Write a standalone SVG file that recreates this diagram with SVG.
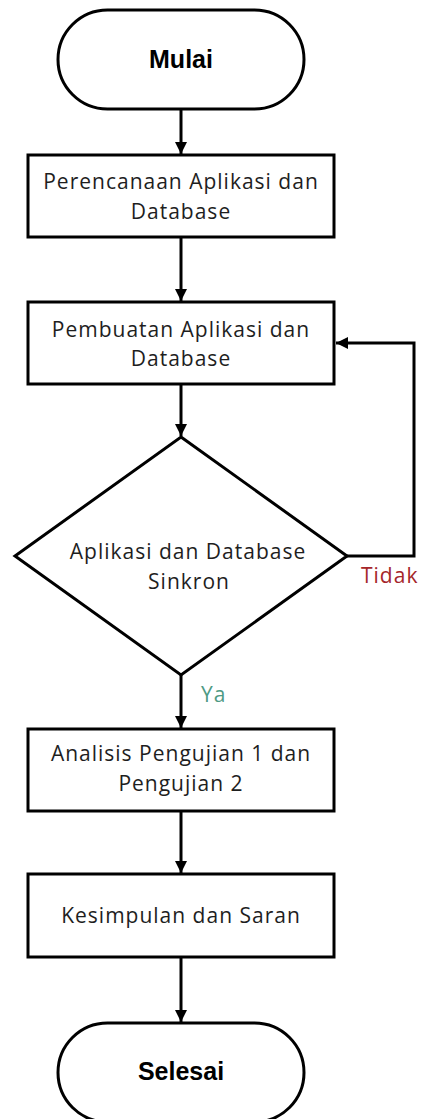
<svg xmlns="http://www.w3.org/2000/svg" width="421" height="1119" viewBox="0 0 421 1119">
  <style>
    .shape { fill: #ffffff; stroke: #000000; stroke-width: 3; }
    .edge { fill: none; stroke: #000000; stroke-width: 3; }
    .label { font-family: "Open Sans", "Liberation Sans", sans-serif; font-size: 21px; letter-spacing: 1px; fill: #1e1e1e; text-anchor: middle; }
    .term { font-family: "Liberation Sans", Arial, sans-serif; font-size: 25px; font-weight: bold; fill: #000000; text-anchor: middle; }
    .no { font-family: "Open Sans", "Liberation Sans", sans-serif; font-size: 21px; letter-spacing: 1px; fill: #A5262A; }
    .yes { font-family: "Open Sans", "Liberation Sans", sans-serif; font-size: 21px; letter-spacing: 1px; fill: #4E9A84; }
  </style>
  <defs>
    <marker id="arrow" markerWidth="4" markerHeight="4" refX="4" refY="2" orient="auto" markerUnits="strokeWidth">
      <path d="M0,0 L4,2 L0,4 Z" fill="#000000"/>
    </marker>
  </defs>
  <rect width="421" height="1119" fill="#ffffff"/>

  <!-- connectors -->
  <g id="connectors">
    <line class="edge" x1="181" y1="109" x2="181" y2="154" marker-end="url(#arrow)"/>
    <line class="edge" x1="181" y1="237" x2="181" y2="301" marker-end="url(#arrow)"/>
    <line class="edge" x1="181" y1="384" x2="181" y2="436" marker-end="url(#arrow)"/>
    <polyline class="edge" points="347,556 414,556 414,343 336,343" marker-end="url(#arrow)"/>
    <line class="edge" x1="181" y1="675" x2="181" y2="728" marker-end="url(#arrow)"/>
    <line class="edge" x1="181" y1="811" x2="181" y2="873" marker-end="url(#arrow)"/>
    <line class="edge" x1="181" y1="957" x2="181" y2="1022" marker-end="url(#arrow)"/>
    <text class="no" x="361" y="583">Tidak</text>
    <text class="yes" x="201" y="702">Ya</text>
  </g>

  <g id="start">
    <rect class="shape" x="58" y="10" width="246" height="99" rx="49.5" ry="49.5"/>
    <text class="term" x="181" y="68">Mulai</text>
  </g>

  <g id="plan">
    <rect class="shape" x="28" y="155" width="306" height="82"/>
    <text class="label" x="181" y="189">Perencanaan Aplikasi dan</text>
    <text class="label" x="181" y="219">Database</text>
  </g>

  <g id="build">
    <rect class="shape" x="28" y="302" width="306" height="82"/>
    <text class="label" x="181" y="337">Pembuatan Aplikasi dan</text>
    <text class="label" x="181" y="366">Database</text>
  </g>

  <g id="sync-check">
    <polygon class="shape" points="181,437 347,556 181,675 15,556"/>
    <text class="label" x="188" y="559">Aplikasi dan Database</text>
    <text class="label" x="189" y="589">Sinkron</text>
  </g>

  <g id="analysis">
    <rect class="shape" x="28" y="729" width="306" height="82"/>
    <text class="label" x="181" y="761">Analisis Pengujian 1 dan</text>
    <text class="label" x="181" y="791">Pengujian 2</text>
  </g>

  <g id="conclusion">
    <rect class="shape" x="28" y="874" width="306" height="83"/>
    <text class="label" x="181" y="923">Kesimpulan dan Saran</text>
  </g>

  <g id="end">
    <rect class="shape" x="58" y="1023" width="246" height="99" rx="49.5" ry="49.5"/>
    <text class="term" x="181" y="1080">Selesai</text>
  </g>
</svg>
